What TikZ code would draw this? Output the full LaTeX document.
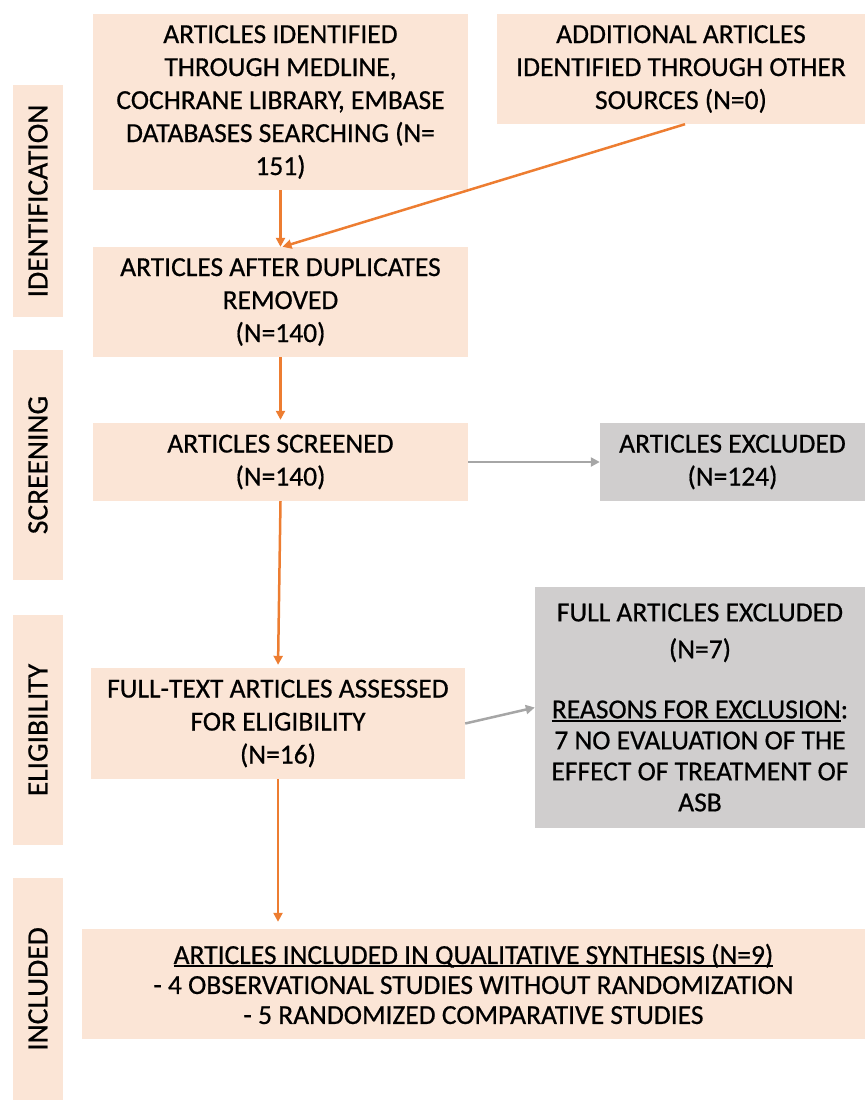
\documentclass[tikz,border=0pt]{standalone}
\usepackage{fontspec}
\setmainfont{Carlito}[FakeBold=0.6]
\usetikzlibrary{arrows.meta}
\definecolor{peach}{HTML}{FBE5D6}
\definecolor{greybox}{HTML}{D0CECE}
\definecolor{orangeline}{HTML}{ED7D31}
\definecolor{greyline}{HTML}{A6A6A6}
\newcommand\myul[1]{\setbox0\hbox{#1}\rlap{\rule[-3.2pt]{\wd0}{1.8pt}}\box0}
\tikzset{
  box/.style={fill=peach, draw=none, inner sep=0pt, align=center,
    font=\fontsize{27.5}{33}\selectfont},
  exbox/.style={box, fill=greybox},
  phase/.style={fill=peach, draw=none, inner sep=0pt, rotate=90,
    minimum height=50pt, font=\fontsize{29.5}{33}\selectfont},
  oarrow/.style={draw=orangeline, line width=2.5pt,
    -{Triangle[length=9pt,width=9pt]}},
  garrow/.style={draw=greyline, line width=2.5pt,
    -{Triangle[length=9pt,width=9pt]}},
}
\begin{document}
\begin{tikzpicture}[x=1pt,y=-1pt]
\useasboundingbox (0,0) rectangle (865,1100);

% phase labels
\node[phase, minimum width=232pt] (pid) at (38,201) {IDENTIFICATION};
\node[phase, minimum width=230pt] (psc) at (38,465) {SCREENING};
\node[phase, minimum width=230pt] (pel) at (38,730) {ELIGIBILITY};
\node[phase, minimum width=222pt] (pin) at (38,989) {INCLUDED};

% boxes
\node[box, minimum width=375pt, minimum height=176pt] (A) at (280.5,102)
  {ARTICLES IDENTIFIED\\ THROUGH MEDLINE,\\ COCHRANE LIBRARY, EMBASE\\ DATABASES SEARCHING (N=\\ 151)};
\node[box, minimum width=368pt, minimum height=110pt] (B) at (681,69)
  {ADDITIONAL ARTICLES\\ IDENTIFIED THROUGH OTHER\\ SOURCES (N=0)};
\node[box, minimum width=375pt, minimum height=110pt] (C) at (280.5,302)
  {ARTICLES AFTER DUPLICATES\\ REMOVED\\ (N=140)};
\node[box, minimum width=375pt, minimum height=78pt] (D) at (280.5,462)
  {ARTICLES SCREENED\\ (N=140)};
\node[exbox, minimum width=265pt, minimum height=78pt] (E) at (732.5,462)
  {ARTICLES EXCLUDED\\ (N=124)};
\node[box, minimum width=374pt, minimum height=111pt] (F) at (278,723.5)
  {FULL-TEXT ARTICLES ASSESSED\\ FOR ELIGIBILITY\\ (N=16)};
\node[exbox, minimum width=330pt, minimum height=241pt,
  font=\fontsize{27.5}{31}\selectfont] (G) at (700,707.5)
  {FULL ARTICLES EXCLUDED\\[6pt] (N=7)\\[29pt] \myul{REASONS FOR EXCLUSION}:\\ 7 NO EVALUATION OF THE\\ EFFECT OF TREATMENT OF\\ ASB};
\node[box, minimum width=783pt, minimum height=110pt,
  font=\fontsize{27.5}{30}\selectfont] (H) at (473.5,984)
  {\myul{ARTICLES INCLUDED IN QUALITATIVE SYNTHESIS (N=9)}\\ - 4 OBSERVATIONAL STUDIES WITHOUT RANDOMIZATION\\ - 5 RANDOMIZED COMPARATIVE STUDIES};

% connectors
\draw[oarrow] (A.south) -- (C.north);
\draw[oarrow] ([xshift=4pt]B.south) -- ([xshift=2pt]C.north);
\draw[oarrow, shorten >=3pt] (C.south) -- (D.north);
\draw[oarrow, shorten >=3pt] (D.south) -- (F.north);
\draw[garrow] (D.east) -- (E.west);
\draw[garrow] (F.east) -- (G.west);
\draw[oarrow, shorten >=7pt] (F.south) -- (F.south |- H.north);
\end{tikzpicture}
\end{document}
